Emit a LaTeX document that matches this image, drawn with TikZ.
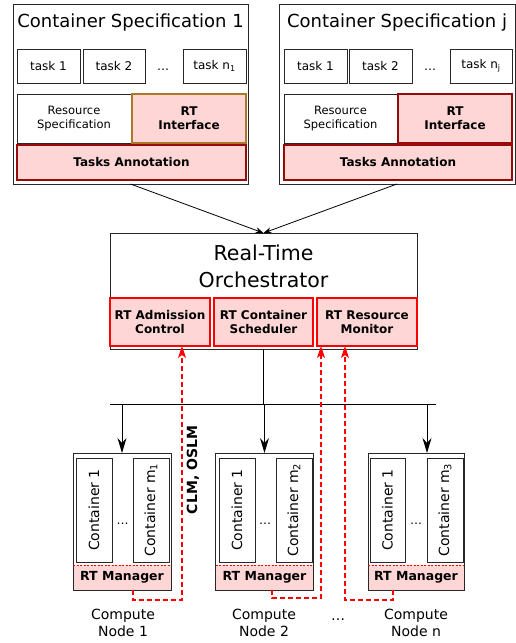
\documentclass[tikz,border=0pt]{standalone}
\usepackage{fontspec}
\setmainfont{DejaVu Sans}
\usetikzlibrary{arrows.meta}
\definecolor{pinkfill}{RGB}{255,214,214}
\definecolor{darkred}{RGB}{150,10,10}
\definecolor{olivebrd}{RGB}{170,120,40}
\definecolor{boxgray}{RGB}{40,40,40}
\tikzset{
  fs/.style={font=\fontsize{#1}{22}\selectfont},
  plainbox/.style={draw=boxgray, line width=0.9pt, fill=white, inner sep=0pt, outer sep=0pt, align=center},
  outerbox/.style={draw=boxgray, line width=1pt, inner sep=0pt, outer sep=0pt},
  pinkbox/.style={draw=#1, line width=1.3pt, fill=pinkfill, inner sep=0pt, outer sep=0pt, align=center, font=\fontsize{12}{14}\selectfont\bfseries},
  rtbox/.style={draw=red, line width=1.8pt, fill=pinkfill, inner sep=0pt, outer sep=0pt, align=center, font=\fontsize{12}{14}\selectfont\bfseries},
  taskbox/.style={plainbox, minimum width=63pt, minimum height=34pt, font=\fontsize{12}{14}\selectfont},
  contbox/.style={plainbox, minimum width=36pt, minimum height=104pt},
  bigarrow/.style={-{Stealth[length=15pt,width=9pt,inset=5pt]}, line width=1pt},
  smallarrow/.style={-{Stealth[length=8pt,width=6pt]}, line width=0.8pt},
  reddash/.style={draw=red, line width=1.4pt, dash pattern=on 5pt off 3pt, -{Stealth[length=12pt,width=8pt,inset=3pt,fill=red]}},
  rtmbox/.style={fill=pinkfill, minimum height=25pt, inner sep=0pt, outer sep=0pt, font=\fontsize{12.5}{14}\selectfont\bfseries},
}
\begin{document}
\begin{tikzpicture}[x=1pt,y=-1pt]
\useasboundingbox (0,0) rectangle (516,643);

% ---------- Container Specification 1 ----------
\node[outerbox, fill=white, minimum width=235pt, minimum height=180pt] (spec1) at (130.5,94) {};
\node[fs=18] (t1) at (130.5,23) {Container Specification 1};
\node[taskbox] (s1t1) at (48.5,66) {task 1};
\node[taskbox, minimum width=62pt] (s1t2) at (114,66) {task 2};
\node[fs=12] (s1d) at (163,70) {…};
\node[taskbox] (s1tn) at (214.5,66) {task n\textsubscript{1}};
\node[plainbox, minimum width=114pt, minimum height=49pt, font=\fontsize{11.5}{14}\selectfont] (s1rs) at (74,118.5) {Resource\\Specification};
\node[pinkbox=olivebrd, minimum width=114pt, minimum height=49pt] (s1rt) at (189,118.5) {RT\\Interface};
\node[pinkbox=darkred, minimum width=229pt, minimum height=35pt] (s1ta) at (131.5,162.5) {Tasks Annotation};

% ---------- Container Specification j ----------
\node[outerbox, fill=white, minimum width=236pt, minimum height=180pt] (specj) at (397,94) {};
\node[fs=18] (tj) at (397,23) {Container Specification j};
\node[taskbox] (sjt1) at (315.5,66) {task 1};
\node[taskbox] (sjt2) at (380.5,66) {task 2};
\node[fs=12] (sjd) at (430,70) {…};
\node[taskbox, minimum width=62pt] (sjtn) at (481,66) {task n\textsubscript{j}};
\node[plainbox, minimum width=113pt, minimum height=49pt, font=\fontsize{11.5}{14}\selectfont] (sjrs) at (340.5,118.5) {Resource\\Specification};
\node[pinkbox=darkred, minimum width=114pt, minimum height=49pt] (sjrt) at (455,118.5) {RT\\Interface};
\node[pinkbox=darkred, minimum width=228pt, minimum height=35pt] (sjta) at (398,162.5) {Tasks Annotation};

% ---------- Orchestrator ----------
\node[outerbox, fill=white, minimum width=307pt, minimum height=116pt] (orch) at (263.5,291) {};
\node[align=center, font=\fontsize{20.5}{27}\selectfont] (otitle) at (263.5,266.5) {Real-Time\\Orchestrator};
\node[rtbox, minimum width=100pt, minimum height=48pt] (rtac) at (160,322) {RT Admission\\Control};
\node[rtbox, minimum width=99pt, minimum height=48pt] (rtcs) at (263.5,322) {RT Container\\Scheduler};
\node[rtbox, minimum width=100pt, minimum height=48pt] (rtrm) at (367,322) {RT Resource\\Monitor};

\draw[smallarrow] (spec1.south) -- (orch.north);
\draw[smallarrow] (specj.south) -- (orch.north);

% ---------- Bus ----------
\coordinate (busL) at (110,404);
\coordinate (busR) at (436,404);
\draw[line width=0.9pt] (orch.south) -- (orch.south |- busL);
\draw[line width=0.9pt] (busL) -- (busR);

% ---------- Compute nodes ----------
% node 1
\node[rtmbox, minimum width=98pt] (rtm1) at (122,577.5) {RT Manager};
\node[outerbox, minimum width=98pt, minimum height=137pt] (n1) at (122,521.5) {};
\draw[red, line width=0.8pt, dash pattern=on 2pt off 1.5pt] (rtm1.north west) -- (rtm1.north east);
\node[contbox] (n1c1) at (94,510) {};
\node[rotate=90, fs=14] at (n1c1) {Container 1};
\node[contbox] (n1cm) at (151,510) {};
\node[rotate=90, fs=14] at (n1cm) {Container m\textsubscript{1}};
\node[fs=12] (n1d) at (122.5,524) {…};
\node[align=center, font=\fontsize{14}{17}\selectfont] (l1) at (123,623) {Compute\\Node 1};

% node 2
\node[rtmbox, minimum width=98pt] (rtm2) at (264.5,577.5) {RT Manager};
\node[outerbox, minimum width=98pt, minimum height=137pt] (n2) at (264.5,521.5) {};
\draw[red, line width=0.8pt, dash pattern=on 2pt off 1.5pt] (rtm2.north west) -- (rtm2.north east);
\node[contbox] (n2c1) at (237,510) {};
\node[rotate=90, fs=14] at (n2c1) {Container 1};
\node[contbox] (n2cm) at (294,510) {};
\node[rotate=90, fs=14] at (n2cm) {Container m\textsubscript{2}};
\node[fs=12] (n2d) at (265,524) {…};
\node[align=center, font=\fontsize{14}{17}\selectfont] (l2) at (264,623) {Compute\\Node 2};

% node n
\node[rtmbox, minimum width=96pt] (rtm3) at (416,577.5) {RT Manager};
\node[outerbox, minimum width=96pt, minimum height=137pt] (n3) at (416,521.5) {};
\draw[red, line width=0.8pt, dash pattern=on 2pt off 1.5pt] (rtm3.north west) -- (rtm3.north east);
\node[contbox, minimum width=35pt] (n3c1) at (387.5,510) {};
\node[rotate=90, fs=14] at (n3c1) {Container 1};
\node[contbox] (n3cm) at (445,510) {};
\node[rotate=90, fs=14] at (n3cm) {Container m\textsubscript{3}};
\node[fs=12] (n3d) at (416,524) {…};
\node[align=center, font=\fontsize{14}{17}\selectfont] (l3) at (416,623) {Compute\\Node n};

\node[fs=14] (ld) at (338,620) {…};

% bus arrows
\coordinate (a3) at (427,404);
\draw[bigarrow] (n1.north |- busL) -- (n1.north);
\draw[bigarrow] (n2.north |- busL) -- (n2.north);
\draw[bigarrow] (a3) -- (a3 |- n3.north);

% ---------- red dashed feedback ----------
\coordinate (s1) at (133,590);
\coordinate (p1) at (182,600);
\coordinate (s2) at (272,590);
\coordinate (p2) at (321,598);
\coordinate (s3) at (393,590);
\coordinate (p3) at (345,600);
\draw[reddash] (s1) |- (p1) -- (p1 |- rtac.south);
\draw[reddash] (s2) |- (p2) -- (p2 |- rtrm.south);
\draw[reddash] (s3) |- (p3) -- (p3 |- rtrm.south);

\node[rotate=90, font=\fontsize{14}{17}\selectfont\bfseries] (clm) at (193,470) {CLM, OSLM};
\end{tikzpicture}
\end{document}
